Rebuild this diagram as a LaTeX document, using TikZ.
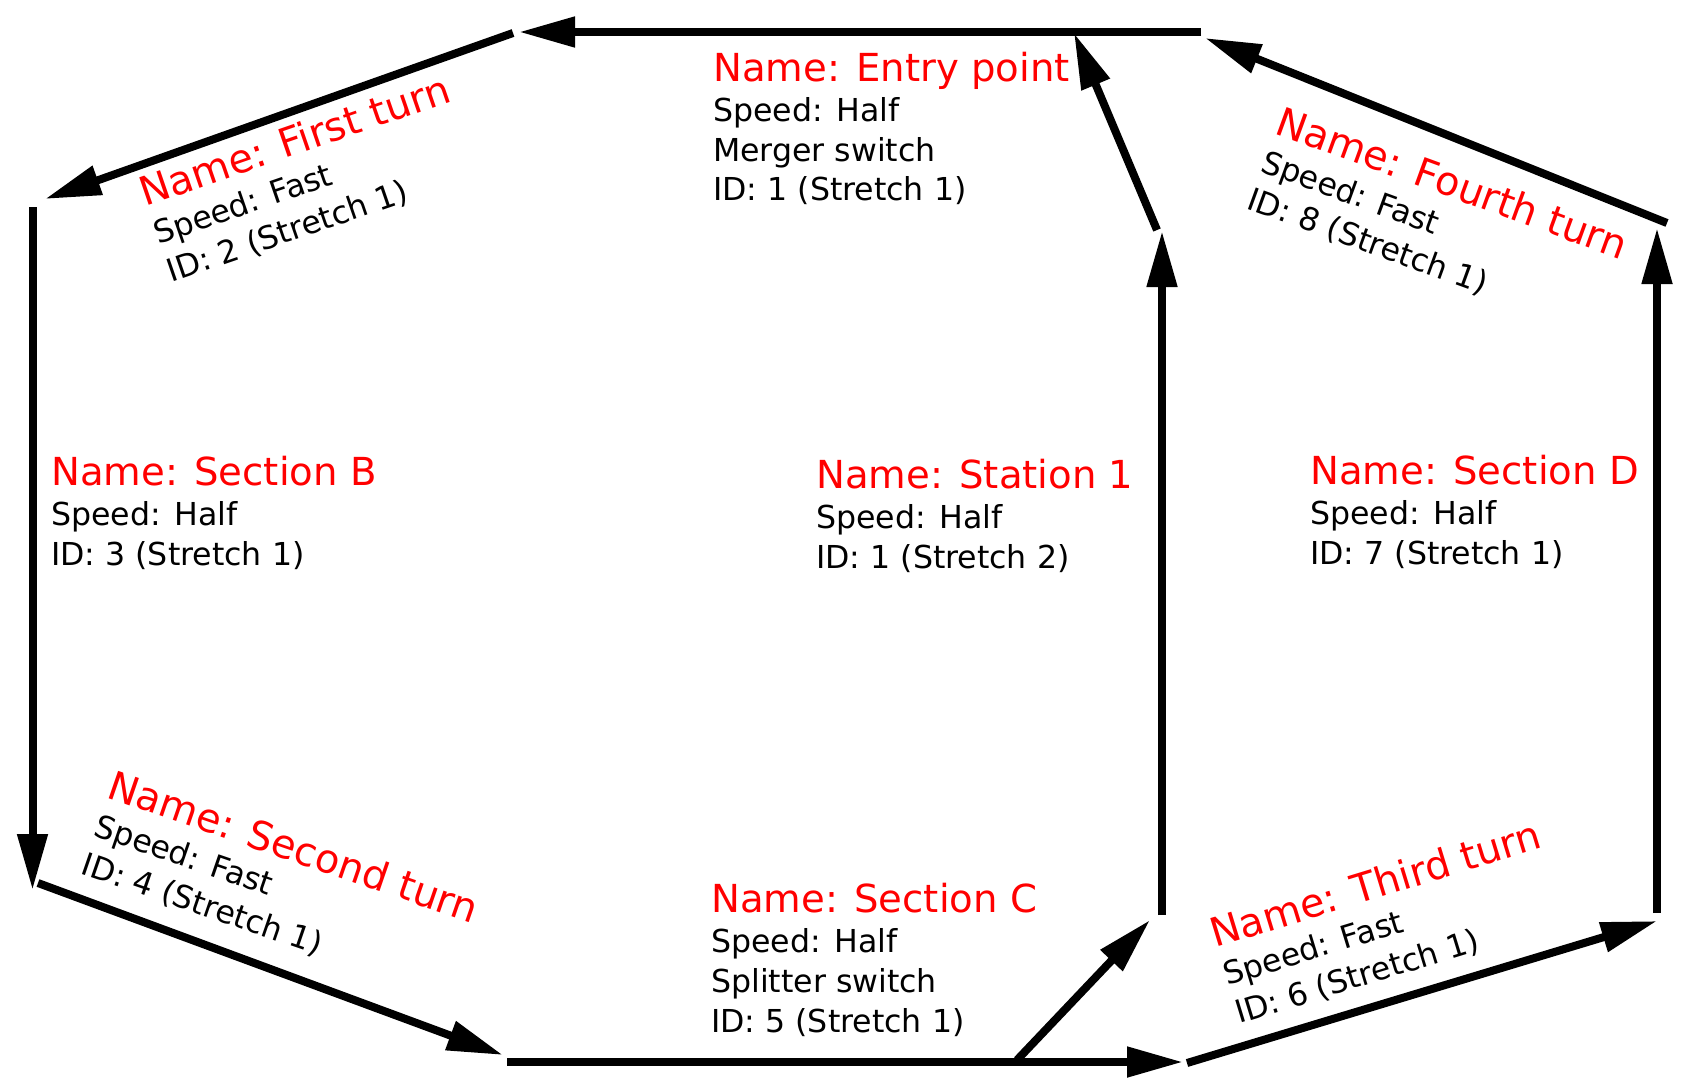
\documentclass[tikz,border=0pt]{standalone}
\usepackage{fontspec}
\setmainfont{DejaVu Sans}
\usetikzlibrary{arrows.meta}
\newcommand\ttlfont{\fontsize{38.6}{44}\selectfont}
\newcommand\rttlfont{\fontsize{39.8}{44}\selectfont}
\newcommand\bdyfont{\fontsize{31.6}{36}\selectfont}
\tikzset{
  track/.style={line width=8pt, -{Triangle[length=56pt,width=29pt]}},
  ttl/.style={anchor=base west, inner sep=0pt, text=red, font=\ttlfont},
  rttl/.style={anchor=base west, inner sep=0pt, text=red, font=\rttlfont},
  bdy/.style={anchor=base west, inner sep=0pt, text=black, font=\bdyfont},
}
\begin{document}
\begin{tikzpicture}[x=1pt, y=-1pt]
\useasboundingbox (0,0) rectangle (1689,1080);
% track end points
\coordinate (topS) at (1201,32);   \coordinate (topE) at (519,32);
\coordinate (ftS) at (513,33);     \coordinate (ftE) at (45,199);
\coordinate (sbS) at (32.5,207);   \coordinate (sbE) at (32.5,890);
\coordinate (stS) at (38,883);     \coordinate (stE) at (503,1055);
\coordinate (scS) at (507,1062);   \coordinate (scE) at (1183,1062);
\coordinate (spS) at (1017,1060);  \coordinate (spE) at (1150,920);
\coordinate (s1S) at (1162,915);   \coordinate (s1E) at (1162,231);
\coordinate (mgS) at (1157,230);   \coordinate (mgE) at (1074,33);
\coordinate (ttS) at (1187,1063);  \coordinate (ttE) at (1657,921);
\coordinate (sdS) at (1657,913);   \coordinate (sdE) at (1657,228);
\coordinate (foS) at (1667,223);   \coordinate (foE) at (1205,38);

\draw[track] (topS) -- (topE);
\draw[track] (ftS) -- (ftE);
\draw[track] (sbS) -- (sbE);
\draw[track] (stS) -- (stE);
\draw[track] (scS) -- (scE);
\draw[track] (spS) -- (spE);
\draw[track] (s1S) -- (s1E);
\draw[track] (mgS) -- (mgE);
\draw[track] (ttS) -- (ttE);
\draw[track] (sdS) -- (sdE);
\draw[track] (foS) -- (foE);

% Entry point
\node[ttl] (ep1) at (713,81) {Name: Entry point};
\node[bdy] (ep2) at (713,121) {Speed: Half};
\node[bdy] (ep3) at (713,161) {Merger switch};
\node[bdy] (ep4) at (713,200) {ID: 1 (Stretch 1)};
% First turn
\node[rttl, rotate=19] (ft1) at (145,207) {Name: First turn};
\node[bdy, rotate=19] (ft2) at (158,245) {Speed: Fast};
\node[bdy, rotate=19] (ft3) at (171,283) {ID: 2 (Stretch 1)};
% Section B
\node[ttl] (sb1) at (51,485) {Name: Section B};
\node[bdy] (sb2) at (51,525) {Speed: Half};
\node[bdy] (sb3) at (51,565) {ID: 3 (Stretch 1)};
% Second turn
\node[rttl, rotate=-19] (st1) at (105,797) {Name: Second turn};
\node[bdy, rotate=-19] (st2) at (92,835) {Speed: Fast};
\node[bdy, rotate=-19] (st3) at (79,873) {ID: 4 (Stretch 1)};
% Section C
\node[ttl] (sc1) at (711,912) {Name: Section C};
\node[bdy] (sc2) at (711,952) {Speed: Half};
\node[bdy] (sc3) at (711,992) {Splitter switch};
\node[bdy] (sc4) at (711,1032) {ID: 5 (Stretch 1)};
% Third turn
\node[rttl, rotate=17] (tt1) at (1215,948) {Name: Third turn};
\node[bdy, rotate=17] (tt2) at (1227,986) {Speed: Fast};
\node[bdy, rotate=17] (tt3) at (1239,1024) {ID: 6 (Stretch 1)};
% Station 1
\node[ttl] (s11) at (816,488) {Name: Station 1};
\node[bdy] (s12) at (816,528) {Speed: Half};
\node[bdy] (s13) at (816,568) {ID: 1 (Stretch 2)};
% Section D
\node[ttl] (sd1) at (1310,484) {Name: Section D};
\node[bdy] (sd2) at (1310,524) {Speed: Half};
\node[bdy] (sd3) at (1310,564) {ID: 7 (Stretch 1)};
% Fourth turn
\node[rttl, rotate=-20] (fo1) at (1273,133) {Name: Fourth turn};
\node[bdy, rotate=-20] (fo2) at (1259,171) {Speed: Fast};
\node[bdy, rotate=-20] (fo3) at (1245,208) {ID: 8 (Stretch 1)};
\end{tikzpicture}
\end{document}
